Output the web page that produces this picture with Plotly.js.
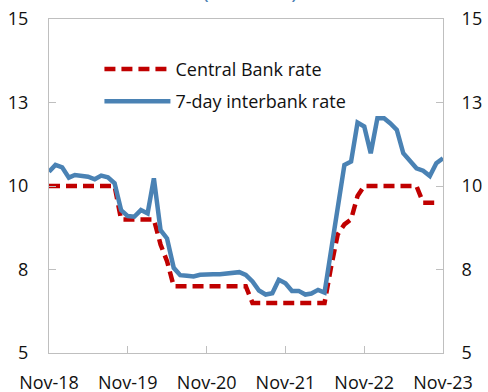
<!DOCTYPE html>
<html>
<head>
<meta charset="utf-8">
<script src="https://cdn.plot.ly/plotly-3.0.1.min.js"></script>
<style>html,body{margin:0;padding:0;background:#fff}#chart{width:488px;height:392px}</style>
</head>
<body>
<div id="chart"></div>
<script>
const months = ["2018-11","2018-12","2019-01","2019-02","2019-03","2019-04","2019-05","2019-06","2019-07","2019-08","2019-09","2019-10",
"2019-11","2019-12","2020-01","2020-02","2020-03","2020-04","2020-05","2020-06","2020-07","2020-08","2020-09","2020-10",
"2020-11","2020-12","2021-01","2021-02","2021-03","2021-04","2021-05","2021-06","2021-07","2021-08","2021-09","2021-10",
"2021-11","2021-12","2022-01","2022-02","2022-03","2022-04","2022-05","2022-06","2022-07","2022-08","2022-09","2022-10",
"2022-11","2022-12","2023-01","2023-02","2023-03","2023-04","2023-05","2023-06","2023-07","2023-08","2023-09","2023-10","2023-11"];

const centralBankRate = [10,10,10,10,10,10,10,10,10,10,10,9,
9,9,9,9,9,8.25,7.75,7,7,7,7,7,
7,7,7,7,7,7,7,6.5,6.5,6.5,6.5,6.5,
6.5,6.5,6.5,6.5,6.5,6.5,6.5,7.6,8.55,8.85,9,9.7,
10,10,10,10,10,10,10,10,10,9.5,9.5,9.5,null];

const interbankRate = [10.43,10.63,10.56,10.25,10.33,10.3,10.28,10.2,10.31,10.26,10.08,9.28,
9.1,9.08,9.28,9.18,10.23,8.68,8.43,7.55,7.33,7.31,7.29,7.34,
7.36,7.36,7.36,7.37,7.38,7.42,7.34,7.14,6.87,6.75,6.79,7.19,
7.09,6.86,6.86,6.75,6.78,6.89,6.81,8.08,9.36,10.63,10.73,11.9,
11.78,10.98,12.03,12.03,11.88,11.68,10.98,10.73,10.53,10.46,10.3,10.68,10.83];

const yTickVals = [5,7.5,10,12.5,15];
const yTickText = ["5","8","10","13","15"];
const seriesNames = ["Central Bank rate","7-day interbank rate"];

const FONT = "Open Sans, Noto Sans, sans-serif";
const traces = [
  {x: months, y: centralBankRate, name: seriesNames[0], type: "scatter", mode: "lines",
   legendgroup: "a", line: {color: "#c00000", width: 4.5, dash: "11px,6px"}},
  {x: months, y: interbankRate, name: seriesNames[1], type: "scatter", mode: "lines",
   legendgroup: "b", line: {color: "#4a82b4", width: 4.5}},
  {x: months, y: interbankRate, yaxis: "y2", showlegend: false, hoverinfo: "skip",
   mode: "lines", line: {width: 0}, opacity: 0}
];

const axisCommon = {
  showgrid: false, zeroline: false, showline: true, linecolor: "#bfbfbf", linewidth: 1,
  ticks: "inside", ticklen: 7, tickcolor: "#bfbfbf", tickwidth: 1,
  tickfont: {family: FONT, size: 18, color: "#111"}
};

const layout = {
  width: 488, height: 392,
  margin: {l: 49, r: 45, t: 19, b: 39},
  paper_bgcolor: "#fff", plot_bgcolor: "#fff",
  showlegend: true,
  legend: {x: 0.128, y: 0.905, xanchor: "left", yanchor: "top", bgcolor: "rgba(0,0,0,0)",
           font: {family: FONT, size: 18, color: "#111"}, traceorder: "grouped", tracegroupgap: 6,
           itemwidth: 66},
  xaxis: Object.assign({}, axisCommon, {
    type: "date", range: ["2018-11-01","2023-11-01"], tick0: "2018-11-01", dtick: "M12",
    tickformat: "%b-%y", mirror: true, ticklabelstandoff: 13
  }),
  yaxis: Object.assign({}, axisCommon, {
    range: [5,15], tickvals: yTickVals, ticktext: yTickText, ticklabelstandoff: 16
  }),
  yaxis2: Object.assign({}, axisCommon, {
    range: [5,15], tickvals: yTickVals, ticktext: yTickText, overlaying: "y", side: "right",
    ticklabelstandoff: 14
  }),
  annotations: [{text: "(Percent)", xref: "paper", yref: "paper", x: 0.51, y: 1, yanchor: "bottom",
    yshift: 12, showarrow: false, font: {family: FONT, size: 23, color: "#4a82b4"}}]
};

Plotly.newPlot("chart", traces, layout, {displayModeBar: false, staticPlot: true});
</script>
</body>
</html>
